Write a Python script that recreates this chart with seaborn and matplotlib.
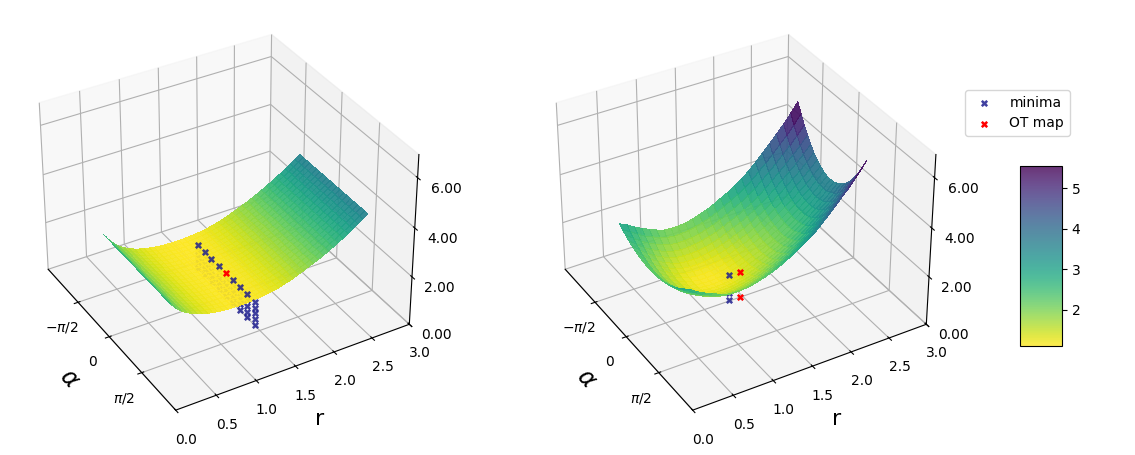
import numpy as np
import matplotlib
matplotlib.use("Agg")
import matplotlib.pyplot as plt
import seaborn as sns

sns.reset_orig()

r_left = np.linspace(0.33, 2.92, 41)
r_right = np.linspace(0.33, 2.65, 26)
alpha_left = np.linspace(-1.5, 1.5, 21)
alpha_half = np.array([-1.5,-1.35,-1.2,-1.05,-0.9,-0.75,-0.6,-0.45,-0.3,-0.15,0.0])
alpha_right = np.concatenate([alpha_half, -alpha_half[-2::-1]])

left_profile = np.array([2.60,2.30,2.06,1.88,1.74,1.63,1.54,1.47,1.41,1.37,1.33,1.31,1.29,1.28,1.27,1.27,1.28,1.29,1.31,1.33,
                         1.36,1.40,1.44,1.50,1.56,1.63,1.71,1.79,1.88,1.96,2.05,2.15,2.25,2.36,2.47,2.59,2.71,2.84,2.98,3.11,3.25])

right_half = np.array([
 [3.01,2.89,2.79,2.70,2.62,2.55,2.50,2.45,2.42,2.41,2.40],
 [2.87,2.72,2.58,2.46,2.35,2.26,2.19,2.13,2.09,2.07,2.06],
 [2.68,2.51,2.36,2.22,2.10,2.00,1.92,1.86,1.82,1.79,1.78],
 [2.52,2.33,2.17,2.03,1.91,1.81,1.72,1.65,1.61,1.58,1.57],
 [2.39,2.20,2.03,1.88,1.76,1.65,1.56,1.49,1.44,1.41,1.40],
 [2.26,2.07,1.90,1.75,1.63,1.52,1.43,1.36,1.31,1.28,1.27],
 [2.16,1.97,1.81,1.66,1.53,1.42,1.34,1.27,1.22,1.19,1.18],
 [2.13,1.94,1.77,1.62,1.50,1.39,1.30,1.23,1.18,1.15,1.14],
 [2.13,1.94,1.77,1.62,1.49,1.38,1.29,1.22,1.17,1.14,1.13],
 [2.16,1.97,1.80,1.65,1.51,1.40,1.31,1.24,1.19,1.16,1.15],
 [2.23,2.03,1.85,1.70,1.56,1.45,1.36,1.28,1.23,1.20,1.19],
 [2.32,2.12,1.94,1.78,1.64,1.52,1.43,1.35,1.30,1.27,1.26],
 [2.42,2.21,2.03,1.87,1.73,1.61,1.51,1.44,1.38,1.35,1.34],
 [2.55,2.34,2.16,1.99,1.85,1.72,1.63,1.55,1.49,1.46,1.45],
 [2.71,2.49,2.30,2.13,1.98,1.85,1.75,1.67,1.62,1.58,1.57],
 [2.86,2.64,2.44,2.26,2.11,1.98,1.88,1.79,1.74,1.70,1.69],
 [3.05,2.81,2.61,2.42,2.27,2.13,2.02,1.94,1.88,1.84,1.83],
 [3.25,3.01,2.79,2.60,2.44,2.30,2.18,2.09,2.03,1.99,1.98],
 [3.47,3.21,2.99,2.79,2.62,2.47,2.35,2.26,2.19,2.15,2.14],
 [3.75,3.48,3.24,3.02,2.84,2.68,2.56,2.46,2.39,2.34,2.33],
 [4.04,3.75,3.49,3.27,3.07,2.91,2.77,2.66,2.59,2.54,2.53],
 [4.34,4.03,3.76,3.52,3.32,3.14,3.00,2.88,2.80,2.75,2.74],
 [4.65,4.33,4.04,3.79,3.57,3.38,3.23,3.11,3.03,2.98,2.96],
 [4.96,4.62,4.32,4.05,3.82,3.62,3.46,3.34,3.25,3.20,3.18],
 [5.32,4.96,4.64,4.35,4.11,3.90,3.73,3.60,3.51,3.45,3.43],
 [5.70,5.32,4.98,4.68,4.42,4.20,4.02,3.88,3.78,3.72,3.70]])

left_min_alpha = [-1.33,-1.0,-0.67,-0.33,0.33,0.67,1.0,1.33]
left_min_r = [1.5]*8
left_min_z = [1.0]*8
left_low_alpha = [-1.33,-1.0,-0.67,-0.33,0.0,0.33,0.67,1.0,1.33]
left_low_z = [0.75,0.5,0.27,0.02]
left_ot = ([0.0],[1.5],[1.0])
right_min = ([0.0],[1.32],[1.1])
right_min_low = ([0.0,0.0],[1.32,1.32],[0.35,0.05])
right_ot = ([0.0],[1.47],[1.08])
right_ot_low = ([0.0],[1.47],[0.02])

cmap = sns.color_palette("viridis_r", as_cmap=True)
Z_left = np.tile(left_profile[:,None], (1,len(alpha_left)))
Z_right = np.hstack([right_half, right_half[:,-2::-1]])

fig = plt.figure(figsize=(11.35,4.55), dpi=100)
size = 420/1135, 420/455
axes = [fig.add_axes([10/1135,25/455,size[0],size[1]],projection='3d'),
        fig.add_axes([527/1135,25/455,size[0],size[1]],projection='3d')]
surfs=[]
for ax, Z, rr, aa, v0, vm in zip(axes,[Z_left,Z_right],[r_left,r_right],[alpha_left,alpha_right],[1.27,1.1],[4.75,5.55]):
    ax.computed_zorder=False
    A, R = np.meshgrid(aa, rr)
    s = ax.plot_surface(A,R,Z,cmap=cmap,vmin=v0,vmax=vm,alpha=0.8,rstride=1,cstride=1,linewidth=0,antialiased=False,zorder=1)
    surfs.append(s)
    ax.view_init(elev=34,azim=-30.5)
    ax.set_xlim(-np.pi,np.pi); ax.set_ylim(0,3); ax.set_zlim(0,6.9)
    ax.set_xticks([-np.pi/2,0,np.pi/2]); ax.set_xticklabels([r'$-\pi/2$','0',r'$\pi/2$'])
    ax.set_yticks([0,.5,1,1.5,2,2.5,3])
    ax.set_zticks([0,2,4,6]); ax.set_zticklabels(['0.00','2.00','4.00','6.00'])
    ax.set_xlabel(r'$\alpha$',fontsize=17,labelpad=6); ax.set_ylabel('r',fontsize=16,labelpad=6)

kw=dict(marker='x',s=15,linewidths=1.8,depthshade=False)
BLUE='#1f1f8f'
for a in left_low_alpha:
    axes[0].scatter([a]*4,[1.5]*4,left_low_z,c=BLUE,alpha=.85,zorder=0,**kw)
axes[0].scatter(left_min_alpha,left_min_r,left_min_z,c=BLUE,alpha=.85,zorder=5,label='minima',**kw)
axes[0].scatter(*left_ot,c='red',zorder=5,label='OT map',**kw)
axes[1].scatter(*right_min_low,c=BLUE,alpha=.85,zorder=0,**kw)
axes[1].scatter(*right_ot_low,c='red',zorder=0,**kw)
axes[1].scatter(*right_min,c=BLUE,alpha=.85,zorder=5,label='minima',**kw)
axes[1].scatter(*right_ot,c='red',zorder=5,label='OT map',**kw)
h,l=axes[1].get_legend_handles_labels()
fig.legend(h,l,loc='upper left',bbox_to_anchor=(965/1135,1-90/455),borderaxespad=0)
cax=fig.add_axes([1020/1135,109/455,42/1135,180/455])
cb=fig.colorbar(surfs[1],cax=cax); cb.set_ticks([2,3,4,5])
for s in surfs:
    s.set_alpha(0.93)
fig.savefig('out.png',dpi=100)
